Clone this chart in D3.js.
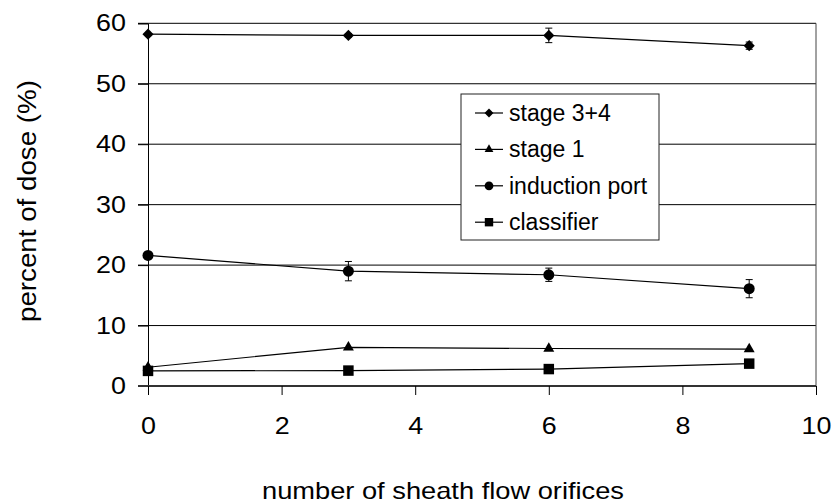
<!DOCTYPE html>
<html>
<head>
<meta charset="utf-8">
<script src="https://cdn.jsdelivr.net/npm/d3@7"></script>
<style>
  body { margin: 0; background: #fff; }
  text { font-family: "Liberation Sans", Arial, sans-serif; fill: #000; }
</style>
</head>
<body>
<div id="chart"></div>
<script>
// data
const orifices = [0, 3, 6, 9];
const seriesNames = ['stage 3+4', 'stage 1', 'induction port', 'classifier'];
const stage34 = [58.2, 58.0, 58.0, 56.3];
const stage34Err = [0, 0.3, 1.2, 0.6];
const stage1 = [3.1, 6.4, 6.2, 6.1];
const stage1Err = [0, 0, 0, 0];
const inductionPort = [21.6, 19.0, 18.4, 16.1];
const inductionPortErr = [0, 1.6, 1.1, 1.5];
const classifier = [2.5, 2.55, 2.8, 3.7];
const classifierErr = [0, 0, 0, 0];
const xTicks = [0, 2, 4, 6, 8, 10];
const yTicks = [0, 10, 20, 30, 40, 50, 60];

const width = 833, height = 504;
const margin = { top: 23.3, right: 17, bottom: 118, left: 148 };
const tickStretch = 1.12; // tick labels in the original are a bit wide

const series = [
  { name: seriesNames[0], values: stage34, err: stage34Err, symbol: 'diamond' },
  { name: seriesNames[1], values: stage1, err: stage1Err, symbol: 'triangle' },
  { name: seriesNames[2], values: inductionPort, err: inductionPortErr, symbol: 'circle' },
  { name: seriesNames[3], values: classifier, err: classifierErr, symbol: 'square' }
];

const svg = d3.select('#chart').append('svg')
  .attr('width', width)
  .attr('height', height);

const x = d3.scaleLinear().domain([0, 10]).range([margin.left, width - margin.right]);
const y = d3.scaleLinear().domain([0, 60]).range([height - margin.bottom, margin.top]);

function markerPath(kind, scale) {
  const k = scale || 1;
  if (kind === 'diamond') return d3.symbol(d3.symbolSquare, 62 * k * k)();
  if (kind === 'triangle') return d3.symbol(d3.symbolTriangle, 52 * k * k)();
  if (kind === 'circle') return d3.symbol(d3.symbolCircle, 95 * k * k)();
  return d3.symbol(d3.symbolSquare, 110 * k * k)();
}

// gridlines + left ticks
svg.append('g')
  .selectAll('line')
  .data(yTicks.filter(d => d > 0))
  .enter().append('line')
  .attr('x1', x(0) - 10).attr('x2', x(10))
  .attr('y1', d => y(d)).attr('y2', d => y(d))
  .attr('stroke', '#000').attr('stroke-width', 1);

// right border
svg.append('line')
  .attr('x1', x(10)).attr('x2', x(10))
  .attr('y1', y(60)).attr('y2', y(0))
  .attr('stroke', '#444');

// y axis
const yAxis = svg.append('g')
  .attr('transform', `translate(${x(0)},0)`)
  .call(d3.axisLeft(y).tickValues(yTicks).tickSize(10).tickPadding(12));
yAxis.select('.domain').attr('stroke', '#000');
yAxis.selectAll('.tick line').attr('stroke', '#000');
yAxis.selectAll('text')
  .style('font-size', '24px')
  .attr('x', -22 / tickStretch)
  .attr('transform', `scale(${tickStretch},1)`);

// x axis
const xAxis = svg.append('g')
  .attr('transform', `translate(0,${y(0)})`)
  .call(d3.axisBottom(x).tickValues(xTicks).tickSize(9).tickPadding(22));
xAxis.select('.domain').attr('stroke', '#333').attr('stroke-width', 2)
  .attr('d', `M${x(0) - 10},0H${x(10)}`);
xAxis.selectAll('.tick line').attr('stroke', '#000');
xAxis.selectAll('text')
  .style('font-size', '24px')
  .attr('transform', `scale(${tickStretch},1)`);

// lines
const line = d3.line()
  .x((d, i) => x(orifices[i]))
  .y(d => y(d));

const plot = svg.append('g');

series.forEach(s => {
  const g = plot.append('g');
  g.append('path')
    .attr('d', line(s.values))
    .attr('fill', 'none')
    .attr('stroke', '#000')
    .attr('stroke-width', 1.2);

  const errData = s.values.map((v, i) => ({ x: orifices[i], v: v, e: s.err[i] })).filter(d => d.e > 0);
  const eb = g.selectAll('.err').data(errData).enter().append('g').attr('class', 'err');
  eb.append('line')
    .attr('x1', d => x(d.x)).attr('x2', d => x(d.x))
    .attr('y1', d => y(d.v - d.e)).attr('y2', d => y(d.v + d.e))
    .attr('stroke', '#000');
  eb.selectAll('.cap').data(d => [[d.x, d.v - d.e], [d.x, d.v + d.e]])
    .enter().append('line')
    .attr('x1', d => x(d[0]) - 3.5).attr('x2', d => x(d[0]) + 3.5)
    .attr('y1', d => y(d[1])).attr('y2', d => y(d[1]))
    .attr('stroke', '#000');

  g.selectAll('.marker')
    .data(s.values)
    .enter().append('path')
    .attr('class', 'marker')
    .attr('d', markerPath(s.symbol))
    .attr('transform', (d, i) => `translate(${x(orifices[i])},${y(d)})` + (s.symbol === 'diamond' ? ' rotate(45)' : ''))
    .attr('fill', '#000');
});

// legend
const legend = svg.append('g').attr('transform', 'translate(461,94)');
legend.append('rect')
  .attr('width', 198).attr('height', 146)
  .attr('fill', '#fff').attr('stroke', '#222');
const item = legend.selectAll('.item')
  .data(series)
  .enter().append('g')
  .attr('transform', (d, i) => `translate(0,${19 + i * 36.4})`);
item.append('line')
  .attr('x1', 14).attr('x2', 42)
  .attr('stroke', '#000').attr('stroke-width', 1.2);
item.append('path')
  .attr('d', d => markerPath(d.symbol, 0.8))
  .attr('transform', d => 'translate(28,0)' + (d.symbol === 'diamond' ? ' rotate(45)' : ''))
  .attr('fill', '#000');
item.append('text')
  .attr('x', 48).attr('dy', '0.35em')
  .style('font-size', '23px')
  .text(d => d.name);

// axis titles
svg.append('text')
  .attr('x', 262)
  .attr('y', 499)
  .attr('textLength', 362)
  .attr('lengthAdjust', 'spacingAndGlyphs')
  .style('font-size', '24px')
  .text('number of sheath flow orifices');

svg.append('text')
  .attr('transform', `translate(36,322) rotate(-90)`)
  .attr('textLength', 242)
  .attr('lengthAdjust', 'spacingAndGlyphs')
  .style('font-size', '25px')
  .text('percent of dose (%)');
</script>
</body>
</html>
